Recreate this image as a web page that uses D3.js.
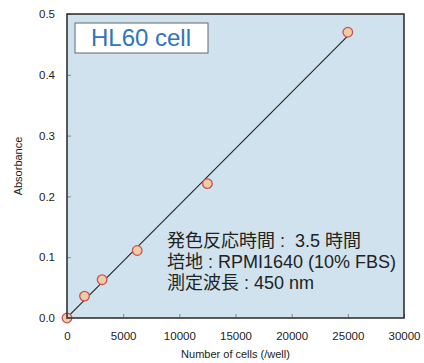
<!DOCTYPE html>
<html>
<head>
<meta charset="utf-8">
<script src="https://cdn.jsdelivr.net/npm/d3@7"></script>
<style>
  body { margin: 0; background: #fff; }
  svg { display: block; font-family: "Liberation Sans", Arial, sans-serif; }
</style>
</head>
<body>
<figure id="chart" style="margin:0"></figure>
<script>
// cell numbers (/well) and absorbance readings
const cells = [0, 1560, 3125, 6250, 12500, 25000];
const absorbance = [0.0, 0.036, 0.063, 0.111, 0.221, 0.47];
const xTicks = [0, 5000, 10000, 15000, 20000, 25000, 30000];
const yTicks = [0.0, 0.1, 0.2, 0.3, 0.4, 0.5];
const title = "HL60 cell";
const notes = ["発色反応時間 :  3.5 時間", "培地 : RPMI1640 (10% FBS)", "測定波長 : 450 nm"];

const W = 424, H = 363;
const margin = {left: 67, right: 20, top: 14, bottom: 45};
const w = W - margin.left - margin.right;
const h = H - margin.top - margin.bottom;

const svg = d3.select("figure#chart")
  .append("svg")
  .attr("width", W)
  .attr("height", H);

const g = svg.append("g")
  .attr("transform", "translate(" + margin.left + "," + margin.top + ")");

const x = d3.scaleLinear().domain([0, 30000]).range([0, w]);
const y = d3.scaleLinear().domain([0, 0.5]).range([h, 0]);

g.append("rect")
  .attr("width", w).attr("height", h)
  .attr("fill", "#d0e2ee");

// inward ticks
const xAxis = g.append("g")
  .attr("transform", "translate(0," + h + ")")
  .call(d3.axisBottom(x).tickValues(xTicks).tickSize(-4).tickPadding(14).tickFormat(d3.format("d")));
const yAxis = g.append("g")
  .call(d3.axisLeft(y).tickValues(yTicks).tickSize(-4).tickPadding(12).tickFormat(d3.format(".1f")));
[xAxis, yAxis].forEach(a => {
  a.select(".domain").remove();
  a.selectAll(".tick line").attr("stroke", "#888");
  a.selectAll(".tick text").attr("font-size", "11.5px").attr("fill", "#222")
    .attr("font-family", "Liberation Sans, Arial, sans-serif");
});

// fitted line (least squares) from 0 to last point
const pts = cells.map((c, i) => ({c: c, a: absorbance[i]}));
const mx = d3.mean(cells), my = d3.mean(absorbance);
const slope = d3.sum(pts, p => (p.c - mx) * (p.a - my)) / d3.sum(pts, p => (p.c - mx) ** 2);
const icpt = my - slope * mx;
const x0 = 0, x1 = d3.max(cells);
g.append("line")
  .attr("x1", x(x0)).attr("y1", y(icpt + slope * x0))
  .attr("x2", x(x1)).attr("y2", y(icpt + slope * x1))
  .attr("stroke", "#222").attr("stroke-width", 1.1);

g.selectAll("circle.pt")
  .data(pts)
  .enter()
  .append("circle")
  .attr("class", "pt")
  .attr("cx", d => x(d.c))
  .attr("cy", d => y(d.a))
  .attr("r", 4.8)
  .attr("fill", "#f0cda0")
  .attr("stroke", "#c8505a")
  .attr("stroke-width", 1.3);

// frame
g.append("rect")
  .attr("width", w).attr("height", h)
  .attr("fill", "none")
  .attr("stroke", "#333")
  .attr("stroke-width", 1.6);

// title box
g.append("rect")
  .attr("x", 8).attr("y", 9)
  .attr("width", 133).attr("height", 30)
  .attr("fill", "#fff")
  .attr("stroke", "#666")
  .attr("stroke-width", 1);
g.append("text")
  .attr("x", 74).attr("y", 32)
  .attr("text-anchor", "middle")
  .attr("font-size", "24px")
  .attr("fill", "#2f74bd")
  .text(title);

g.selectAll("text.note")
  .data(notes)
  .enter()
  .append("text")
  .attr("class", "note")
  .attr("x", 100)
  .attr("y", (d, i) => 233 + i * 21)
  .attr("font-size", "18px")
  .attr("fill", "#222")
  .attr("font-family", "Liberation Sans, 'Noto Sans CJK JP', sans-serif")
  .style("white-space", "pre")
  .text(d => d);

svg.append("text")
  .attr("transform", "translate(22," + (margin.top + h / 2) + ") rotate(-90)")
  .attr("text-anchor", "middle")
  .attr("font-size", "11px")
  .attr("fill", "#222")
  .text("Absorbance");

svg.append("text")
  .attr("x", margin.left + w / 2)
  .attr("y", 358)
  .attr("text-anchor", "middle")
  .attr("font-size", "11px")
  .attr("fill", "#222")
  .text("Number of cells (/well)");
</script>
</body>
</html>
